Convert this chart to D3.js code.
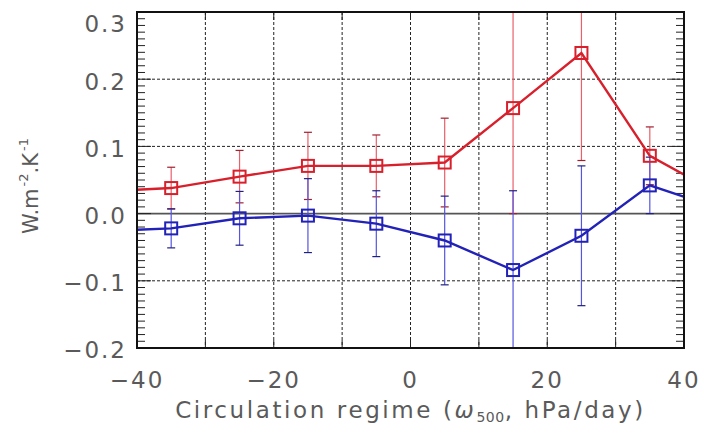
<!DOCTYPE html>
<html>
<head>
<meta charset="utf-8">
<script src="https://cdn.jsdelivr.net/npm/d3@7"></script>
<style>
  body { margin: 0; background: #fff; }
  svg text { font-family: "DejaVu Sans", sans-serif; fill: #5a5a5a; }
</style>
</head>
<body>
<svg id="chart"></svg>
<script>
const regimes = [-45, -35, -25, -15, -5, 5, 15, 25, 35, 45];
const redVals = [0.033, 0.038, 0.055, 0.071, 0.071, 0.076, 0.157, 0.239, 0.086, 0.030];
const redErr = [0.030, 0.031, 0.039, 0.050, 0.046, 0.066, 0.157, 0.160, 0.043, 0.040];
const blueVals = [-0.026, -0.022, -0.007, -0.003, -0.015, -0.040, -0.084, -0.033, 0.042, 0.008];
const blueErr = [0.030, 0.029, 0.040, 0.055, 0.049, 0.066, 0.118, 0.104, 0.042, 0.040];
const xTicks = [-40, -20, 0, 20, 40];
const yTicks = [-0.2, -0.1, 0.0, 0.1, 0.2, 0.3];

const chartSize = {width: 704, height: 436};
const margin = {left: 137, right: 20, top: 12, bottom: 88};
const width = chartSize.width - margin.left - margin.right;
const height = chartSize.height - margin.top - margin.bottom;

const svg = d3.select("#chart")
  .attr("width", chartSize.width)
  .attr("height", chartSize.height);

const g = svg.append("g")
  .attr("transform", `translate(${margin.left},${margin.top})`);

const x = d3.scaleLinear().domain([-40, 40]).range([0, width]);
const y = d3.scaleLinear().domain([-0.2, 0.3]).range([height, 0]);

svg.append("defs").append("clipPath").attr("id", "plot-clip")
  .append("rect").attr("width", width).attr("height", height);

// dashed grid
g.selectAll(".vgrid").data(d3.range(-30, 31, 10))
  .enter().append("line")
  .attr("x1", d => x(d)).attr("x2", d => x(d))
  .attr("y1", 0).attr("y2", height)
  .attr("stroke", "#222").attr("stroke-width", 1).attr("stroke-dasharray", "3,2");

g.selectAll(".hgrid").data([-0.1, 0.1, 0.2])
  .enter().append("line")
  .attr("x1", 0).attr("x2", width)
  .attr("y1", d => y(d)).attr("y2", d => y(d))
  .attr("stroke", "#222").attr("stroke-width", 1).attr("stroke-dasharray", "3,2");

g.append("line")
  .attr("x1", 0).attr("x2", width)
  .attr("y1", y(0)).attr("y2", y(0))
  .attr("stroke", "#555").attr("stroke-width", 1.6);

// minor ticks on y axes, both sides
const yMinor = d3.range(-20, 31).map(v => v / 100);
g.selectAll(".ytl").data(yMinor).enter().append("line")
  .attr("x1", 0).attr("x2", d => Math.round(d * 100) % 10 === 0 ? 14 : 8)
  .attr("y1", d => y(d)).attr("y2", d => y(d))
  .attr("stroke", "#222").attr("stroke-width", 1);
g.selectAll(".ytr").data(yMinor).enter().append("line")
  .attr("x1", width).attr("x2", d => width - (Math.round(d * 100) % 10 === 0 ? 14 : 8))
  .attr("y1", d => y(d)).attr("y2", d => y(d))
  .attr("stroke", "#222").attr("stroke-width", 1);

// x ticks bottom and top
const xMinor = d3.range(-40, 41, 10);
g.selectAll(".xtb").data(xMinor).enter().append("line")
  .attr("x1", d => x(d)).attr("x2", d => x(d))
  .attr("y1", height).attr("y2", height - 8)
  .attr("stroke", "#222").attr("stroke-width", 1);
g.selectAll(".xtt").data(xMinor).enter().append("line")
  .attr("x1", d => x(d)).attr("x2", d => x(d))
  .attr("y1", 0).attr("y2", 8)
  .attr("stroke", "#222").attr("stroke-width", 1);

// series
const series = [
  {vals: redVals, err: redErr, line: "#d8202c", bar: "#e8606a", cap: "#a02030"},
  {vals: blueVals, err: blueErr, line: "#2222b8", bar: "#5555e0", cap: "#202080"}
];

const plot = g.append("g").attr("clip-path", "url(#plot-clip)");
const line = d3.line().x((d, i) => x(regimes[i])).y(d => y(d));

series.forEach(s => {
  const eb = plot.append("g");
  eb.selectAll("line.bar").data(s.vals).enter().append("line")
    .attr("x1", (d, i) => x(regimes[i])).attr("x2", (d, i) => x(regimes[i]))
    .attr("y1", (d, i) => y(d + s.err[i])).attr("y2", (d, i) => y(d - s.err[i]))
    .attr("stroke", s.bar).attr("stroke-width", 1.2);
  [1, -1].forEach(sign => {
    eb.selectAll(null).data(s.vals).enter().append("line")
      .attr("x1", (d, i) => x(regimes[i]) - 4).attr("x2", (d, i) => x(regimes[i]) + 4)
      .attr("y1", (d, i) => y(d + sign * s.err[i])).attr("y2", (d, i) => y(d + sign * s.err[i]))
      .attr("stroke", s.cap).attr("stroke-width", 1.2);
  });
});

series.forEach(s => {
  plot.append("path").datum(s.vals)
    .attr("d", line)
    .attr("fill", "none").attr("stroke", s.line).attr("stroke-width", 2.4);
  plot.selectAll(null).data(s.vals).enter().append("rect")
    .attr("x", (d, i) => x(regimes[i]) - 6).attr("y", d => y(d) - 6)
    .attr("width", 12).attr("height", 12)
    .attr("fill", "none").attr("stroke", s.line).attr("stroke-width", 2);
});

// frame
g.append("rect").attr("width", width).attr("height", height)
  .attr("fill", "none").attr("stroke", "#111").attr("stroke-width", 2);

// tick labels
const fmt = v => (v < 0 ? "\u2212" : "") + Math.abs(v).toFixed(1);
g.selectAll(".ylab").data(yTicks).enter().append("text")
  .attr("x", -10).attr("y", d => y(d))
  .attr("dy", d => d === 0.3 ? "0.85em" : "0.45em")
  .attr("text-anchor", "end")
  .attr("font-size", 23).attr("letter-spacing", 2)
  .text(fmt);

g.selectAll(".xlab").data(xTicks).enter().append("text")
  .attr("x", d => x(d)).attr("y", height + 40)
  .attr("text-anchor", "middle")
  .attr("font-size", 23).attr("letter-spacing", 2)
  .text(d => (d < 0 ? "\u2212" : "") + Math.abs(d));

// axis titles
const xt = g.append("text")
  .attr("x", x(0)).attr("y", height + 70)
  .attr("text-anchor", "middle")
  .attr("font-size", 23).attr("letter-spacing", 2.6);
xt.append("tspan").text("Circulation regime (");
xt.append("tspan").attr("font-style", "italic").text("\u03c9");
xt.append("tspan").attr("font-size", 14).attr("dy", 4).attr("letter-spacing", 0.5).text("500");
xt.append("tspan").attr("dy", -4).text(", hPa/day)");

const yt = svg.append("text")
  .attr("transform", `translate(38,${margin.top + y(0.05) + 6}) rotate(-90)`)
  .attr("text-anchor", "middle")
  .attr("font-size", 21);
yt.append("tspan").text("W.m");
yt.append("tspan").attr("font-size", 13).attr("dy", -10).attr("dx", 2).text("-2");
yt.append("tspan").attr("dy", 10).text(".K");
yt.append("tspan").attr("font-size", 13).attr("dy", -10).attr("dx", 2).text("-1");
</script>
</body>
</html>
